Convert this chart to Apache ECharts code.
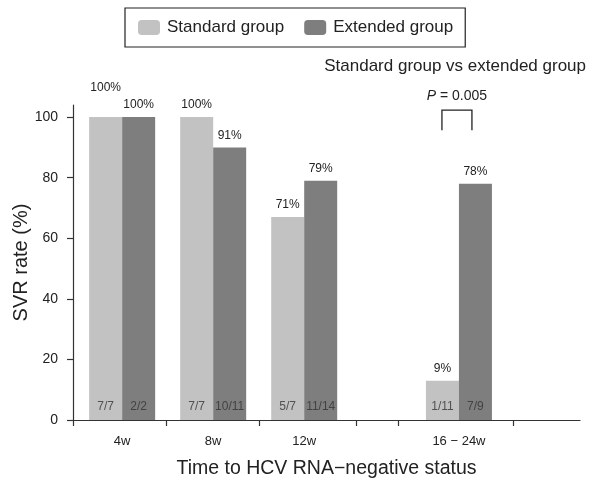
<!DOCTYPE html>
<html>
<head>
<meta charset="utf-8">
<script src="https://cdn.jsdelivr.net/npm/echarts@6/dist/echarts.min.js"></script>
<style>
  html, body { margin: 0; padding: 0; background: #fff; }
  #chart { width: 590px; height: 481px; }
</style>
</head>
<body>
<div id="chart"></div>
<script>
// groups on the x axis (value positions leave the wider gap before 16-24w)
const categories = ['4w', '8w', '12w', '16 \u2212 24w']
const categoryPos = [1, 2, 3, 4.7]
const xTicks = [0.46, 1.48, 2.51, 3.57, 4.03, 5.3]

// bar heights as drawn
const standardValues = [100, 100, 67, 13]
const extendedValues = [100, 90, 79, 78]

// printed labels
const standardPct = ['100%', '100%', '71%', '9%']
const extendedPct = ['100%', '91%', '79%', '78%']
const standardFrac = ['7/7', '7/7', '5/7', '1/11']
const extendedFrac = ['2/2', '10/11', '11/14', '7/9']

const yTicks = [0, 20, 40, 60, 80, 100]

const FONT = '"Liberation Sans", Arial, sans-serif'
const TEXT = '#222'
const STD_COLOR = '#c2c2c2'
const EXT_COLOR = '#7e7e7e'
const BAR_W = 33

const chart = echarts.init(document.getElementById('chart'))

function barSeries(name, values, color, pcts, raiseFirst) {
  return {
    name: name,
    type: 'bar',
    barWidth: BAR_W,
    barGap: '0%',
    itemStyle: { color: color },
    label: {
      show: true,
      position: 'top',
      distance: 6,
      fontFamily: FONT,
      fontSize: 12,
      color: TEXT,
      formatter: p => pcts[p.dataIndex]
    },
    data: values.map((v, i) => {
      const item = { value: [categoryPos[i], v] }
      if (raiseFirst && i === 0) item.label = { distance: 23 }
      return item
    })
  }
}

// n/N counts written at the foot of each bar
function countSeries(name, fracs, side) {
  return {
    name: name,
    type: 'scatter',
    symbol: 'circle',
    symbolSize: 1,
    silent: true,
    z: 5,
    itemStyle: { color: 'transparent' },
    label: {
      show: true,
      position: 'inside',
      offset: [side * BAR_W / 2, -13],
      fontFamily: FONT,
      fontSize: 12,
      color: '#333',
      formatter: p => fracs[p.dataIndex]
    },
    data: fracs.map((t, i) => [categoryPos[i], 0])
  }
}

const option = {
  animation: false,
  textStyle: { fontFamily: FONT },
  title: {
    text: 'Standard group vs extended group',
    right: 4,
    top: 58,
    padding: 0,
    textStyle: { fontFamily: FONT, fontSize: 17, fontWeight: 'normal', color: TEXT }
  },
  legend: {
    data: ['Standard group', 'Extended group'],
    left: 125,
    top: 8,
    padding: [11, 12, 11, 13],
    itemGap: 20,
    itemWidth: 22,
    itemHeight: 15,
    borderColor: '#222',
    borderWidth: 1.2,
    textStyle: { fontFamily: FONT, fontSize: 17, color: TEXT, padding: [0, 0, 0, 2] }
  },
  grid: {
    left: 73,
    right: 10,
    top: 105,
    bottom: 61,
    outerBoundsMode: 'none',
    containLabel: false
  },
  xAxis: {
    type: 'value',
    min: 0.46,
    max: 6.03,
    splitLine: { show: false },
    axisLine: { lineStyle: { color: '#333', width: 1.2 } },
    axisTick: { customValues: xTicks, length: 6, lineStyle: { color: '#333', width: 1.2 } },
    axisLabel: {
      customValues: categoryPos,
      margin: 15,
      fontSize: 13,
      color: TEXT,
      formatter: v => categories[categoryPos.indexOf(v)]
    },
    name: 'Time to HCV RNA\u2212negative status',
    nameLocation: 'middle',
    nameGap: 39,
    nameMoveOverlap: false,
    nameTextStyle: { fontSize: 19.5, color: TEXT }
  },
  yAxis: {
    type: 'value',
    min: 0,
    max: 104,
    splitLine: { show: false },
    axisLine: { show: true, lineStyle: { color: '#333', width: 1.2 } },
    axisTick: { show: true, customValues: yTicks, length: 6, lineStyle: { color: '#333', width: 1.2 } },
    axisLabel: { customValues: yTicks, margin: 15, fontSize: 14, color: TEXT },
    name: 'SVR rate (%)',
    nameLocation: 'middle',
    nameGap: 42,
    nameMoveOverlap: false,
    nameTextStyle: { fontSize: 20, color: TEXT }
  },
  series: [
    barSeries('Standard group', standardValues, STD_COLOR, standardPct, true),
    barSeries('Extended group', extendedValues, EXT_COLOR, extendedPct, false),
    countSeries('stdCount', standardFrac, -1),
    countSeries('extCount', extendedFrac, 1)
  ]
}

chart.setOption(option)

// significance bracket over the 16-24w group
const lastPos = categoryPos[categoryPos.length - 1]
const bracketTop = chart.convertToPixel({ gridIndex: 0 }, [lastPos, 102.3])
const bracketBottom = chart.convertToPixel({ gridIndex: 0 }, [lastPos, 95.7])
const cx = bracketTop[0] - 2
chart.setOption({
  graphic: [
    {
      type: 'polyline',
      shape: { points: [[cx - 15, bracketBottom[1]], [cx - 15, bracketTop[1]], [cx + 15, bracketTop[1]], [cx + 15, bracketBottom[1]]] },
      style: { stroke: '#222', lineWidth: 1.3, fill: null }
    },
    {
      type: 'text',
      x: cx,
      y: bracketTop[1] - 14,
      style: {
        text: '{i|P} = 0.005',
        align: 'center',
        verticalAlign: 'middle',
        fontFamily: FONT,
        fontSize: 14,
        fill: TEXT,
        rich: { i: { fontStyle: 'italic', fontFamily: FONT, fontSize: 14, fill: TEXT } }
      }
    }
  ]
})
</script>
</body>
</html>
